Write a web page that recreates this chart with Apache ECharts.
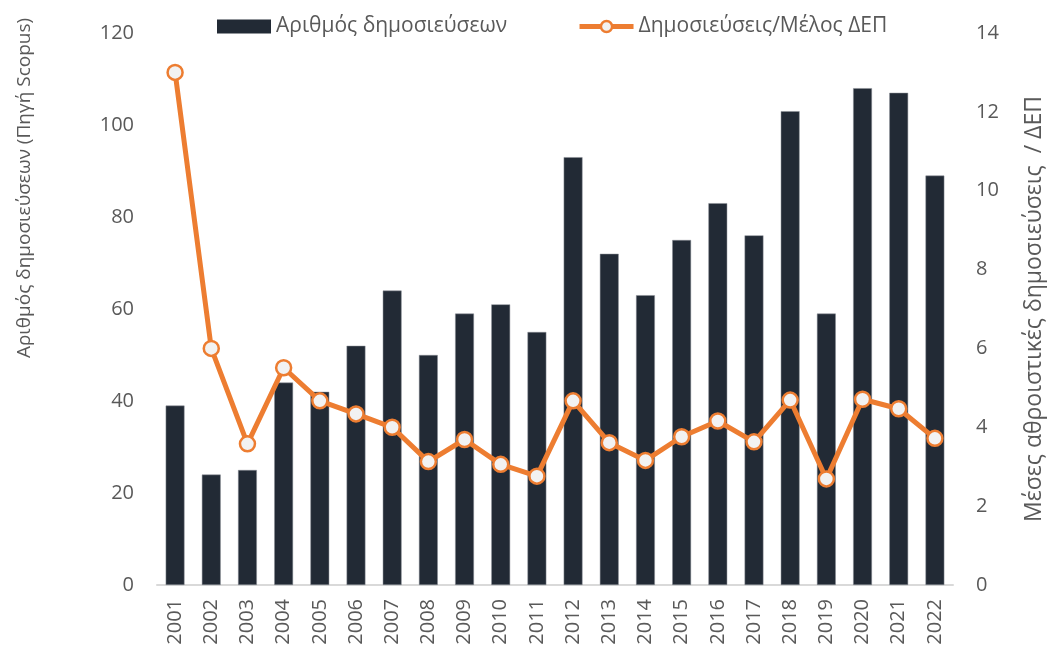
<!DOCTYPE html>
<html>
<head>
<meta charset="utf-8">
<script src="https://cdn.jsdelivr.net/npm/echarts@6/dist/echarts.min.js"></script>
<style>
  html, body { margin: 0; padding: 0; background: #fff; }
  #chart { width: 1054px; height: 650px; }
</style>
</head>
<body>
<div id="chart"></div>
<script>
// δεδομένα
const years = ['2001', '2002', '2003', '2004', '2005', '2006', '2007', '2008', '2009', '2010', '2011',
  '2012', '2013', '2014', '2015', '2016', '2017', '2018', '2019', '2020', '2021', '2022']
const publications = [39, 24, 25, 44, 42, 52, 64, 50, 59, 61, 55, 93, 72, 63, 75, 83, 76, 103, 59, 108, 107, 89]
const perMember = [13.0, 6.0, 3.58, 5.51, 4.67, 4.34, 4.0, 3.13, 3.69, 3.06, 2.76,
  4.67, 3.61, 3.16, 3.76, 4.16, 3.63, 4.69, 2.69, 4.71, 4.47, 3.72]

const textColor = '#595959'
const font = 'Open Sans'

const chart = echarts.init(document.getElementById('chart'))

chart.setOption({
  animation: false,
  textStyle: { fontFamily: font },
  grid: { left: 157, right: 85, top: 33, bottom: 65 },
  legend: {
    left: 212,
    top: 11,
    itemWidth: 54,
    itemHeight: 14,
    itemGap: 70,
    textStyle: { fontSize: 21, color: textColor, fontFamily: font },
    data: [
      {
        name: 'Αριθμός δημοσιεύσεων',
        icon: 'rect',
        itemStyle: { color: '#222a35', borderWidth: 0 }
      },
      {
        name: 'Δημοσιεύσεις/Μέλος ΔΕΠ',
        lineStyle: { width: 5, color: '#ed7d31' },
        itemStyle: { color: '#f2f2f2', borderColor: '#ed7d31', borderWidth: 2.5 }
      }
    ]
  },
  graphic: [{
    type: 'text',
    x: 25,
    y: 188,
    rotation: Math.PI / 2,
    style: {
      text: 'Αριθμός δημοσιεύσεων (Πηγή Scopus)',
      fontSize: 19,
      fontFamily: font,
      fill: textColor,
      align: 'center',
      verticalAlign: 'middle'
    }
  }],
  xAxis: {
    type: 'category',
    data: years,
    axisTick: { show: false },
    axisLine: { lineStyle: { color: '#d9d9d9', width: 2 } },
    axisLabel: { rotate: 90, fontSize: 20, color: textColor, margin: 14, interval: 0 }
  },
  yAxis: [{
    type: 'value',
    min: 0,
    max: 120,
    interval: 20,
    axisLine: { show: false },
    axisTick: { show: false },
    splitLine: { show: false },
    axisLabel: { fontSize: 20, color: textColor, margin: 23 }
  }, {
    type: 'value',
    min: 0,
    max: 14,
    interval: 2,
    axisLine: { show: false },
    axisTick: { show: false },
    splitLine: { show: false },
    axisLabel: { fontSize: 20, color: textColor, margin: 23 },
    name: 'Μέσες αθροιστικές δημοσιεύσεις  / ΔΕΠ',
    nameLocation: 'middle',
    nameRotate: 90,
    nameGap: 70,
    nameTextStyle: { fontSize: 23, color: textColor, fontFamily: font }
  }],
  series: [{
    name: 'Αριθμός δημοσιεύσεων',
    type: 'bar',
    data: publications,
    barWidth: '52%',
    itemStyle: { color: '#222a35', borderColor: '#8a8f96', borderWidth: 0.5 }
  }, {
    name: 'Δημοσιεύσεις/Μέλος ΔΕΠ',
    type: 'line',
    yAxisIndex: 1,
    data: perMember,
    symbol: 'circle',
    symbolSize: 15,
    lineStyle: { color: '#ed7d31', width: 5 },
    itemStyle: { color: '#f2f2f2', borderColor: '#ed7d31', borderWidth: 2.5 }
  }]
})
</script>
</body>
</html>
